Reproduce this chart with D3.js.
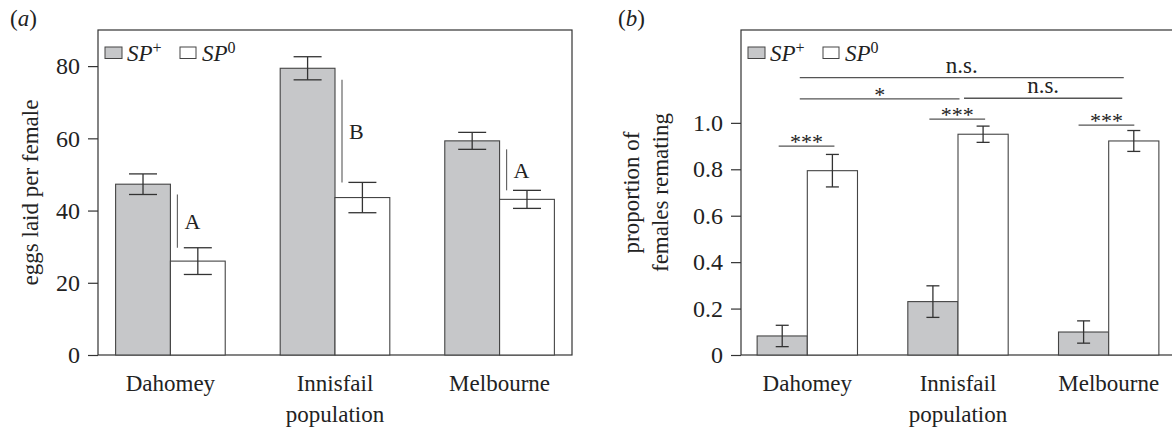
<!DOCTYPE html>
<html>
<head>
<meta charset="utf-8">
<script src="https://cdn.jsdelivr.net/npm/d3@7/dist/d3.min.js"></script>
<style>
  html, body { margin: 0; padding: 0; background: #fff; }
  svg { display: block; }
  text { font-family: "Liberation Serif", "Times New Roman", serif; fill: #222; }
</style>
</head>
<body>
<svg id="chart" width="1172" height="432"></svg>
<script>
// data
const populations = ["Dahomey", "Innisfail", "Melbourne"];
const seriesNames = ["SP+", "SP0"];

// (a) eggs laid per female
const eggsSPplus = [47.3, 79.4, 59.3];
const eggsSPplusErr = [2.85, 3.2, 2.35];
const eggsSP0 = [26.0, 43.6, 43.1];
const eggsSP0Err = [3.7, 4.2, 2.5];
const eggsLetters = ["A", "B", "A"];
const eggsTicks = [0, 20, 40, 60, 80];

// (b) proportion of females remating
const remateSPplus = [0.082, 0.23, 0.099];
const remateSPplusErr = [0.046, 0.068, 0.048];
const remateSP0 = [0.794, 0.951, 0.922];
const remateSP0Err = [0.07, 0.035, 0.045];
const remateTicks = [0, 0.2, 0.4, 0.6, 0.8, 1.0];

// pairwise comparisons in (b): positions in group units / proportion units
const remateComparisons = [
  { from: -0.19, to: 0.18, y: 0.90, label: "***" },
  { from: 0.81, to: 1.18, y: 1.016, label: "***" },
  { from: 1.80, to: 2.17, y: 0.99, label: "***" },
  { from: -0.05, to: 1.01, y: 1.103, label: "*" },
  { from: 1.04, to: 2.09, y: 1.106, label: "n.s." },
  { from: -0.05, to: 2.10, y: 1.195, label: "n.s." }
];

const fillColors = ["#c6c7c9", "#ffffff"];
const svg = d3.select("#chart");

function panel(opts) {
  const { left, right, top, bottom, yDomain, ticks, tickFmt, spPlus, spPlusErr, sp0, sp0Err, capW, fontSize } = opts;
  const x = d3.scalePoint().domain(populations).range([left, right]).padding(0.44);
  const y = d3.scaleLinear().domain(yDomain).range([bottom, top]);
  const barW = x.step() * 0.333;
  const g = svg.append("g");

  // frame
  g.append("rect")
    .attr("x", left).attr("y", top)
    .attr("width", right - left).attr("height", bottom - top)
    .attr("fill", "none").attr("stroke", "#333").attr("stroke-width", 1.2);

  // y axis
  const yAxis = d3.axisLeft(y).tickValues(ticks).tickSize(10).tickPadding(8).tickFormat(tickFmt);
  const ya = g.append("g").attr("transform", `translate(${left},0)`).call(yAxis);
  ya.select(".domain").remove();
  ya.selectAll(".tick line").attr("stroke", "#333").attr("stroke-width", 1.2);
  ya.selectAll(".tick text").style("font-size", fontSize + "px").attr("fill", "#222")
    .style("font-family", "Liberation Serif, Times New Roman, serif");

  // bars
  const rows = populations.map((p, i) => ({
    pop: p,
    vals: [
      { s: 0, v: spPlus[i], e: spPlusErr[i] },
      { s: 1, v: sp0[i], e: sp0Err[i] }
    ]
  }));
  rows.forEach(r => {
    r.vals.forEach(d => {
      const x0 = d.s === 0 ? x(r.pop) - barW : x(r.pop);
      g.append("rect")
        .attr("x", x0).attr("y", y(d.v))
        .attr("width", barW).attr("height", y(0) - y(d.v))
        .attr("fill", fillColors[d.s]).attr("stroke", "#444").attr("stroke-width", 1.1);
      const cx = x0 + barW / 2;
      const eb = g.append("g").attr("stroke", "#333").attr("stroke-width", 1.3);
      eb.append("line").attr("x1", cx).attr("x2", cx).attr("y1", y(d.v + d.e)).attr("y2", y(d.v - d.e));
      eb.append("line").attr("x1", cx - capW / 2).attr("x2", cx + capW / 2).attr("y1", y(d.v + d.e)).attr("y2", y(d.v + d.e));
      eb.append("line").attr("x1", cx - capW / 2).attr("x2", cx + capW / 2).attr("y1", y(d.v - d.e)).attr("y2", y(d.v - d.e));
    });
  });

  // x labels
  const xl = g.append("g").attr("text-anchor", "middle").style("font-size", "23px");
  populations.forEach(p => {
    xl.append("text").attr("x", x(p)).attr("y", 391).text(p);
  });
  xl.append("text").attr("x", x(populations[1])).attr("y", 422).text("population");

  // legend
  const lg = g.append("g");
  const legendItems = [
    { fill: fillColors[0], sup: "+", bx: left + 7, by: 47, bw: 17, bh: 11.5, tx: left + 29 },
    { fill: fillColors[1], sup: "0", bx: left + 82, by: 47, bw: 16, bh: 11.5, tx: left + 104 }
  ];
  legendItems.forEach(it => {
    lg.append("rect").attr("x", it.bx).attr("y", it.by).attr("width", it.bw).attr("height", it.bh)
      .attr("fill", it.fill).attr("stroke", "#444").attr("stroke-width", 1);
    const t = lg.append("text").attr("x", it.tx).attr("y", 61).style("font-size", "23px");
    t.append("tspan").style("font-style", "italic").text("SP");
    t.append("tspan").attr("dy", -8).style("font-size", "16px").text(it.sup);
  });

  return { g, x, y, barW };
}

// ---- panel (a)
const A = panel({
  left: 98, right: 572, top: 30, bottom: 355,
  yDomain: [0, 90], ticks: eggsTicks, tickFmt: d3.format("d"),
  spPlus: eggsSPplus, spPlusErr: eggsSPplusErr, sp0: eggsSP0, sp0Err: eggsSP0Err,
  capW: 28, fontSize: 24
});

populations.forEach((p, i) => {
  const lx = A.x(p) + 7;
  const yTop = A.y(eggsSPplus[i] - eggsSPplusErr[i]);
  const yBot = A.y(eggsSP0[i] + eggsSP0Err[i]);
  A.g.append("line").attr("x1", lx).attr("x2", lx).attr("y1", yTop).attr("y2", yBot)
    .attr("stroke", "#666").attr("stroke-width", 1.2);
  A.g.append("text").attr("x", lx + 7).attr("y", (yTop + yBot) / 2 + 8)
    .style("font-size", "22px").text(eggsLetters[i]);
});

svg.append("text").attr("transform", "translate(38,192.5) rotate(-90)")
  .attr("text-anchor", "middle").style("font-size", "23px").text("eggs laid per female");

const la = svg.append("text").attr("x", 10).attr("y", 26).style("font-size", "23px");
la.append("tspan").text("(");
la.append("tspan").style("font-style", "italic").text("a");
la.append("tspan").text(")");

// ---- panel (b)
const B = panel({
  left: 741, right: 1175, top: 30, bottom: 355,
  yDomain: [0, 1.4], ticks: remateTicks, tickFmt: d => d === 0 ? "0" : d3.format(".1f")(d),
  spPlus: remateSPplus, spPlusErr: remateSPplusErr, sp0: remateSP0, sp0Err: remateSP0Err,
  capW: 13, fontSize: 24
});

const groupPos = t => B.x(populations[0]) + t * B.x.step();
remateComparisons.forEach(c => {
  const yy = B.y(c.y);
  B.g.append("line").attr("x1", groupPos(c.from)).attr("x2", groupPos(c.to))
    .attr("y1", yy).attr("y2", yy).attr("stroke", "#555").attr("stroke-width", 1.3);
  const stars = c.label.indexOf("*") >= 0;
  B.g.append("text").attr("x", groupPos((c.from + c.to) / 2)).attr("y", stars ? yy + 3 : yy - 5)
    .attr("text-anchor", "middle").attr("fill", "#444")
    .style("font-size", stars ? "22px" : "23px").text(c.label);
});

const yl = svg.append("text").attr("transform", "translate(653,192.5) rotate(-90)")
  .attr("text-anchor", "middle").style("font-size", "23px");
yl.append("tspan").attr("x", 0).attr("dy", -14).text("proportion of");
yl.append("tspan").attr("x", 0).attr("dy", 29).text("females remating");

const lb = svg.append("text").attr("x", 618).attr("y", 26).style("font-size", "23px");
lb.append("tspan").text("(");
lb.append("tspan").style("font-style", "italic").text("b");
lb.append("tspan").text(")");
</script>
</body>
</html>
